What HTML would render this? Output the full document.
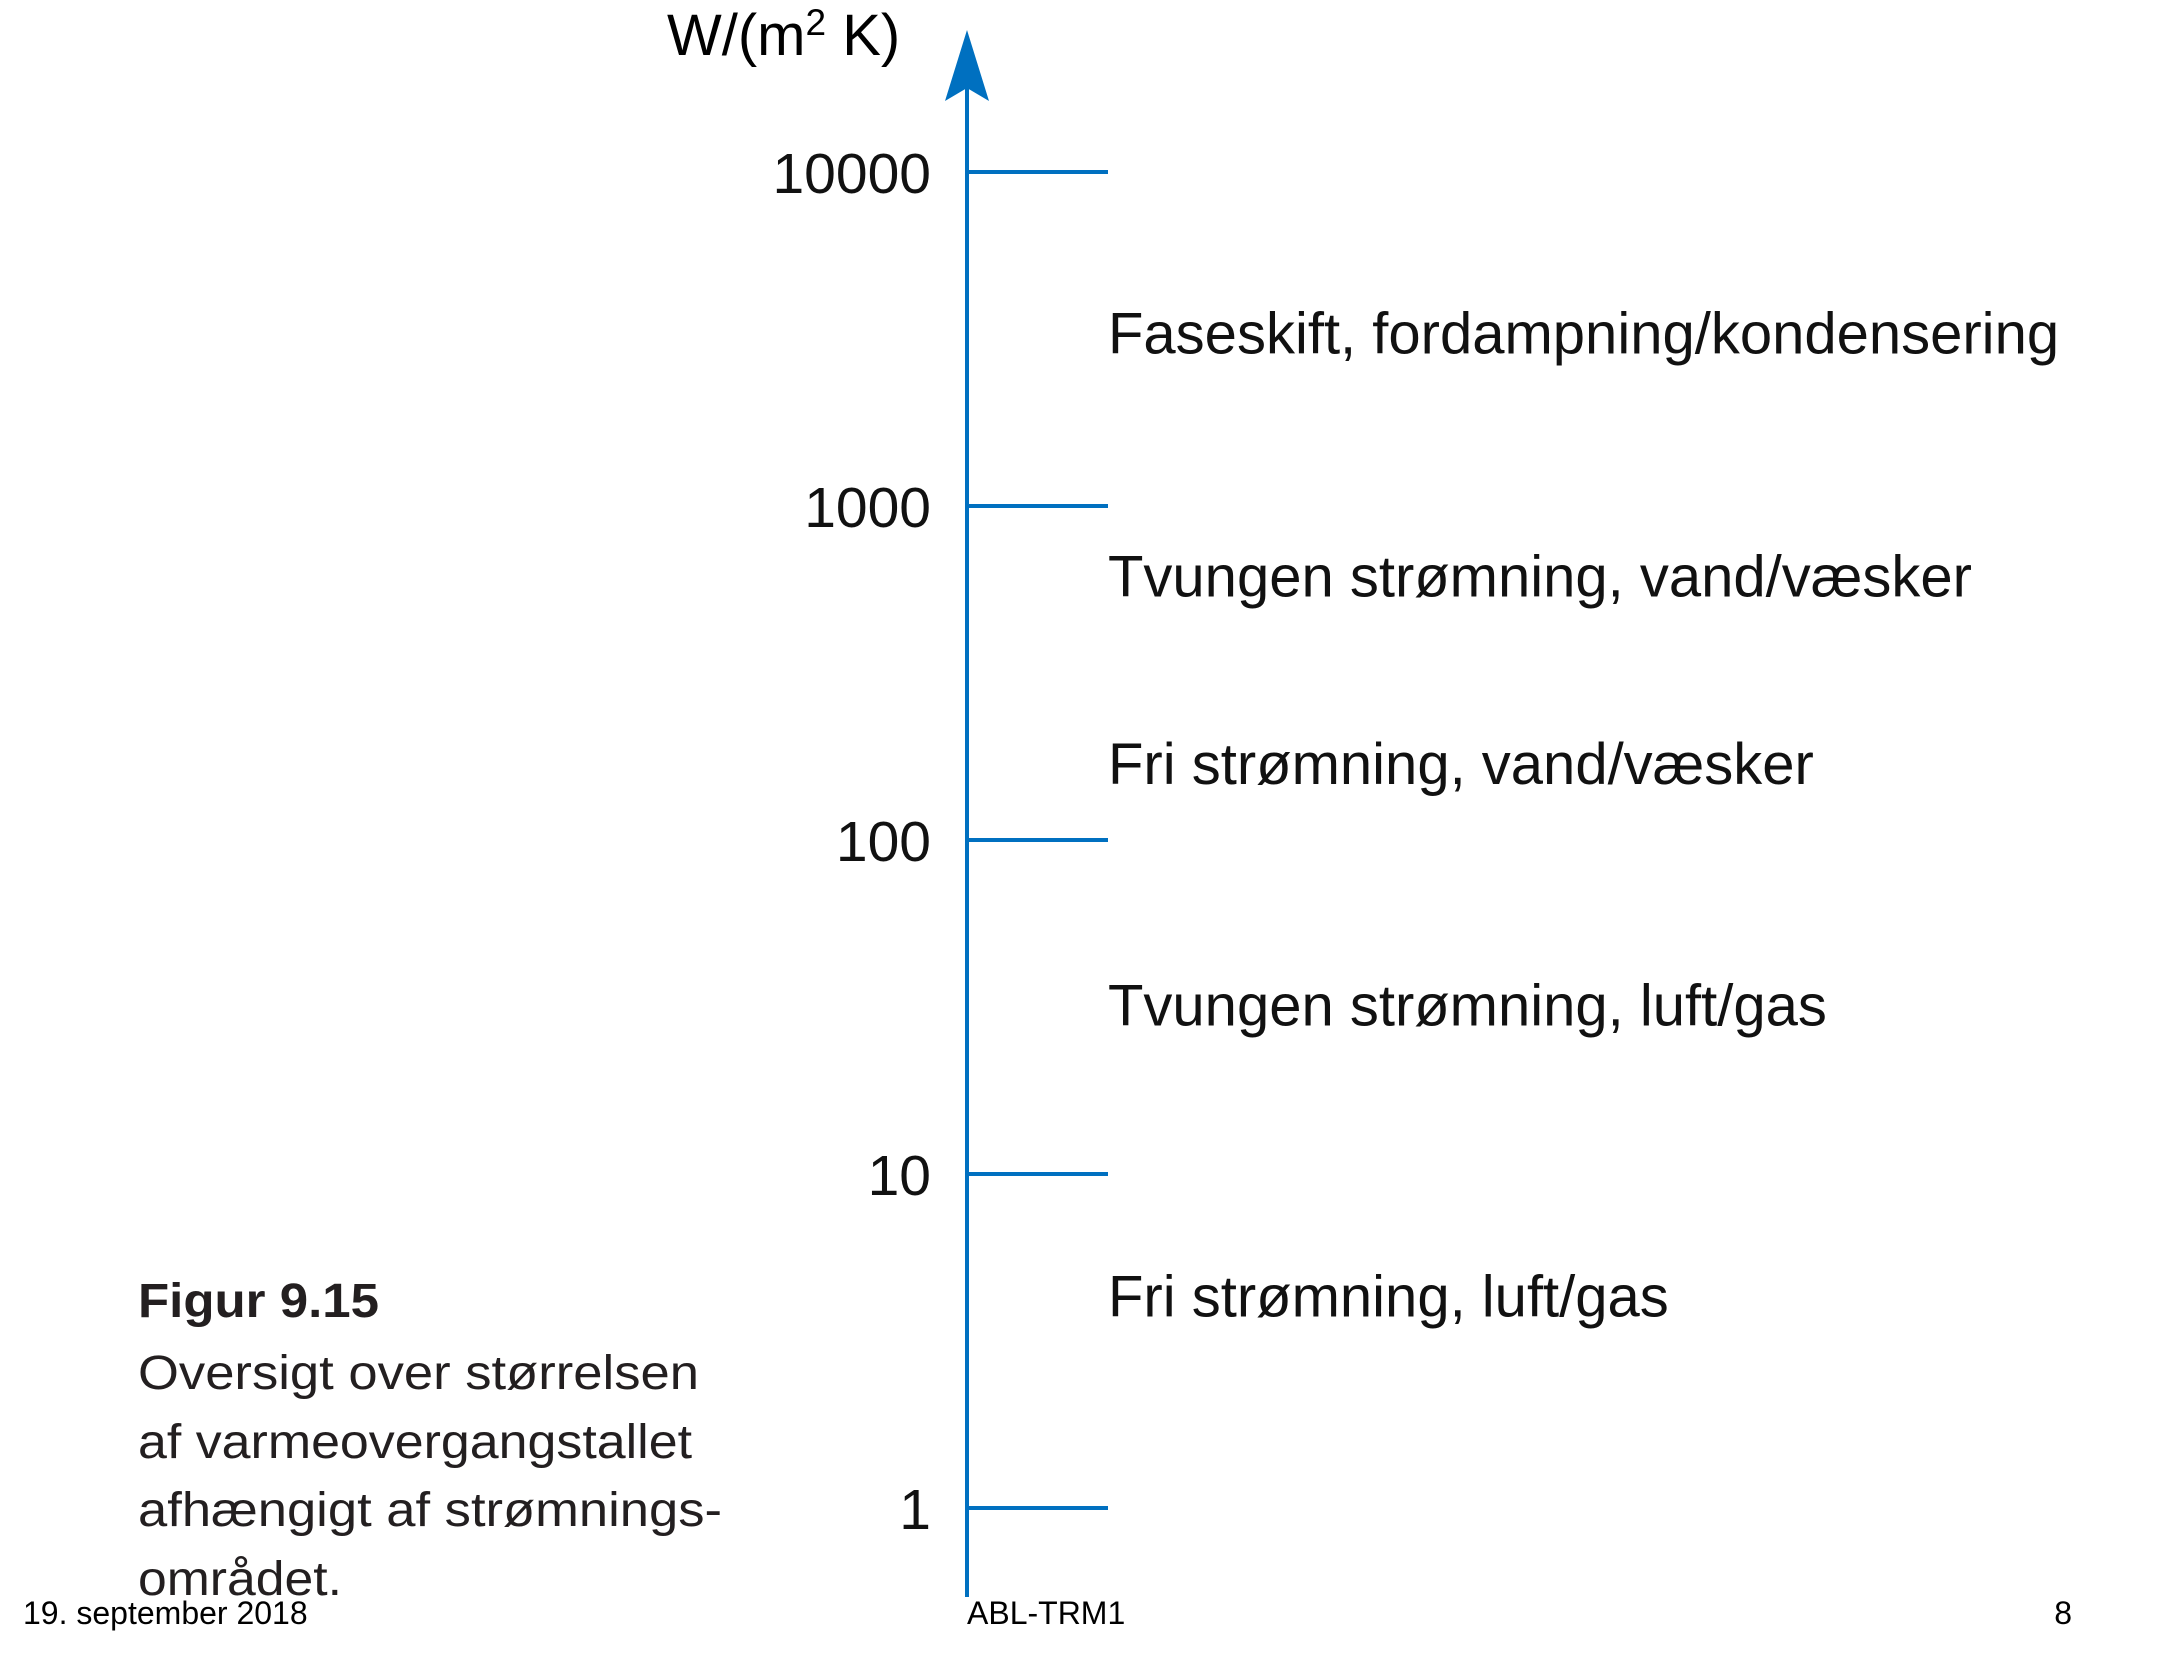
<!DOCTYPE html>
<html><head><meta charset="utf-8"><style>
html,body{margin:0;padding:0;background:#fff;}
svg{display:block;}
</style></head><body>
<svg id="chart" width="2157" height="1657" viewBox="0 0 2157 1657" xmlns="http://www.w3.org/2000/svg">
<g id="axis"></g>
<g id="ticks"></g>
<g id="cats"></g>
<text x="667" y="55" font-family="Liberation Sans, sans-serif" font-size="58" fill="#000">W/(m<tspan font-size="37" dy="-20">2</tspan><tspan dy="20"> K)</tspan></text>
<g font-family="Liberation Sans, sans-serif" fill="#231f20">
<text x="138" y="1317" font-size="48" font-weight="bold" textLength="241" lengthAdjust="spacingAndGlyphs">Figur  9.15</text>
<text x="138" y="1389" font-size="48" textLength="561" lengthAdjust="spacingAndGlyphs">Oversigt over størrelsen</text>
<text x="138" y="1458" font-size="48" textLength="554" lengthAdjust="spacingAndGlyphs">af varmeovergangstallet</text>
<text x="138" y="1526" font-size="48" textLength="584" lengthAdjust="spacingAndGlyphs">afhængigt af strømnings-</text>
<text x="138" y="1595" font-size="48" textLength="204" lengthAdjust="spacingAndGlyphs">området.</text>
</g>
<g font-family="Liberation Sans, sans-serif" font-size="32" fill="#000">
<text x="23" y="1624">19. september 2018</text>
<text x="967" y="1624">ABL-TRM1</text>
<text x="2072" y="1624" text-anchor="end">8</text>
</g>
</svg>
<script>
const tickValues = [1, 10, 100, 1000, 10000];
const tickLabels = ["1", "10", "100", "1000", "10000"];
const categories = ["Faseskift, fordampning/kondensering", "Tvungen strømning, vand/væsker", "Fri strømning, vand/væsker", "Tvungen strømning, luft/gas", "Fri strømning, luft/gas"];
const categoryValues = [3280, 615, 169, 32, 4.3];

const NS = "http://www.w3.org/2000/svg";
const BLUE = "#0070c0";
const axisX = 967, tickEnd = 1108;
const yTop = 172, yBot = 1508;
function yScale(v){ return yBot - (Math.log10(v) - 0) / 4 * (yBot - yTop); }
function mk(tag, attrs, parent){ const e = document.createElementNS(NS, tag); for (const k in attrs) e.setAttribute(k, attrs[k]); parent.appendChild(e); return e; }

const axisG = document.getElementById('axis');
const ax = mk('line', {x1: axisX, y1: 1597, x2: axisX, y2: 80, stroke: BLUE, 'stroke-width': 4}, axisG);


const arrow = mk('path', {d: `M${axisX} 30 L${axisX+22} 101 L${axisX} 88 L${axisX-22} 101 Z`, fill: BLUE}, axisG);



const ticksG = document.getElementById('ticks');
tickValues.forEach((v, i) => {
  const y = yScale(v);
  const t = mk('line', {x1: axisX, y1: y, x2: tickEnd, y2: y, stroke: BLUE, 'stroke-width': 4}, ticksG);
  
  
  const l = mk('text', {x: 931, y: y + 21, 'text-anchor': 'end', 'font-family': 'Liberation Sans, sans-serif', 'font-size': 57, fill: '#111'}, ticksG);
  l.textContent = tickLabels[i];
  
  
});

const catsG = document.getElementById('cats');
categories.forEach((c, i) => {
  const y = yScale(categoryValues[i]);
  const l = mk('text', {x: 1108, y: y + 20, 'font-family': 'Liberation Sans, sans-serif', 'font-size': 58, fill: '#111'}, catsG);
  l.textContent = c;
  
  
});
</script>
</body></html>
